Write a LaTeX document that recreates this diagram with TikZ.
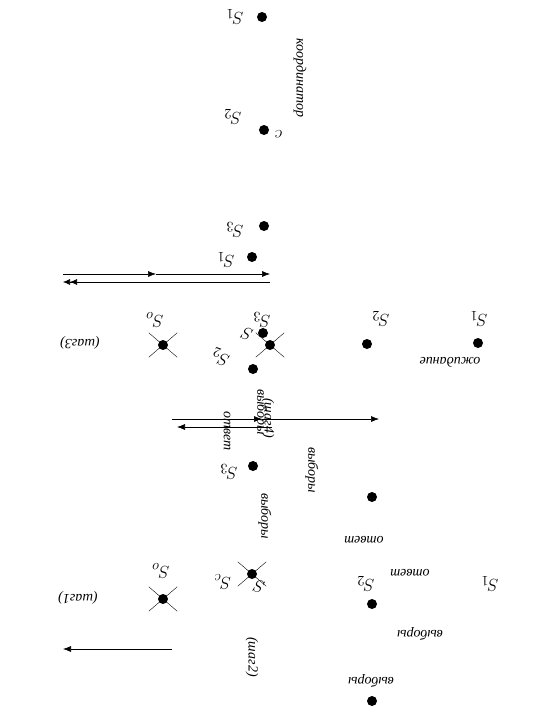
\documentclass[tikz,border=0pt]{standalone}
\usepackage{fontspec}
\setmainfont{Liberation Serif}
\usetikzlibrary{arrows.meta, shapes.misc}

\begin{document}
\begin{tikzpicture}[x=1pt, y=-1pt,
    state/.style={
        circle, fill=black, inner sep=0pt, minimum size=10pt
    },
    killed/.style={
        cross out, draw=black, line width=0.4pt,
        minimum width=28pt, minimum height=24pt, inner sep=0pt
    },
    slabel/.style={font=\fontsize{19}{22}\selectfont, rotate=180, inner sep=0pt},
    word/.style={font=\fontsize{14}{16}\selectfont\itshape, rotate=180},
    vword/.style={font=\fontsize{14}{16}\selectfont\itshape, rotate=-90},
    arr/.style={
        -{Latex[length=8pt, width=6pt]},
        line width=0.6pt, black
    },
    darr/.style={
        -{Latex[length=7pt, width=6pt] Latex[length=7pt, width=6pt]},
        line width=0.6pt, black
    }
]
\useasboundingbox (0,0) rectangle (541,715);

% states
\node[state] (a1)  at (262,17)  {};
\node[state] (a2)  at (264,130) {};
\node[state] (b3)  at (264,226) {};
\node[state] (b1)  at (252,257) {};
\node[state] (c3)  at (263,333) {};
\node[state] (c0)  at (270,345) {};
\node[state] (c2)  at (253,369) {};
\node[state] (d2)  at (367,344) {};
\node[state] (d1)  at (478,343) {};
\node[state] (e0)  at (163,345) {};
\node[state] (f3)  at (253,466) {};
\node[state] (f2)  at (372,497) {};
\node[state] (g0)  at (252,574) {};
\node[state] (h0)  at (163,599) {};
\node[state] (h2)  at (372,604) {};
\node[state] (h1)  at (372,701) {};

\node[killed] at (c0) {};
\node[killed] at (e0) {};
\node[killed] at (g0) {};
\node[killed] at (h0) {};

% labels of the states
\node[slabel] at (235,17)  {$S_1$};
\node[slabel] at (233,117) {$S_2$};
\node[slabel] at (279,134) {$c$};
\node[slabel] at (235,230) {$S_3$};
\node[slabel] at (226,260) {$S_1$};
\node[slabel] at (262,320) {$S_3$};
\node[slabel, rotate=-20] at (247,334) {$S$};
\node[slabel, rotate=-20] at (221,357) {$S_2$};
\node[slabel] at (155,320) {$S_o$};
\node[slabel] at (381,319) {$S_2$};
\node[slabel] at (479,319) {$S_1$};
\node[slabel] at (229,472) {$S_3$};
\node[slabel] at (223,582) {$S_c$};
\node[slabel, rotate=-15] at (259,587) {$S$};
\node[slabel] at (161,571) {$S_o$};
\node[slabel] at (366,584) {$S_2$};
\node[slabel] at (490,584) {$S_1$};

% words
\node[word] at (450,362) {ожидание};
\node[word] at (80,343)  {(шаг3)};
\node[word] at (364,540) {ответ};
\node[word] at (410,573) {ответ};
\node[word] at (420,634) {выборы};
\node[word] at (371,681) {выборы};
\node[word] at (78,598)  {(шаг1)};

\node[vword] at (300,78)  {координатор};
\node[vword] at (312,470) {выборы};
\node[vword] at (265,516) {выборы};
\node[vword] at (227,431) {ответ};
\node[vword] at (261,412) {выборы};
\node[vword] at (268,418) {(шаг4)};
\node[vword] at (252,657) {(шаг2)};

% messages
\coordinate (p1) at (63,274);
\coordinate (p2) at (156,274);
\coordinate (p3) at (270,274);
\coordinate (p4) at (270,282);
\coordinate (p5) at (63,282);
\draw[arr] (p1) -- (p2);
\draw[arr] (p2) -- (p3);
\draw[darr] (p4) -- (p5);

\coordinate (q1) at (172,419);
\coordinate (q2) at (262,419);
\coordinate (q3) at (379,419);
\coordinate (q4) at (272,427);
\coordinate (q5) at (177,427);
\draw[arr] (q1) -- (q2);
\draw[arr] (q2) -- (q3);
\draw[arr] (q4) -- (q5);

\coordinate (r1) at (172,649);
\coordinate (r2) at (63,649);
\draw[arr] (r1) -- (r2);

\end{tikzpicture}
\end{document}
